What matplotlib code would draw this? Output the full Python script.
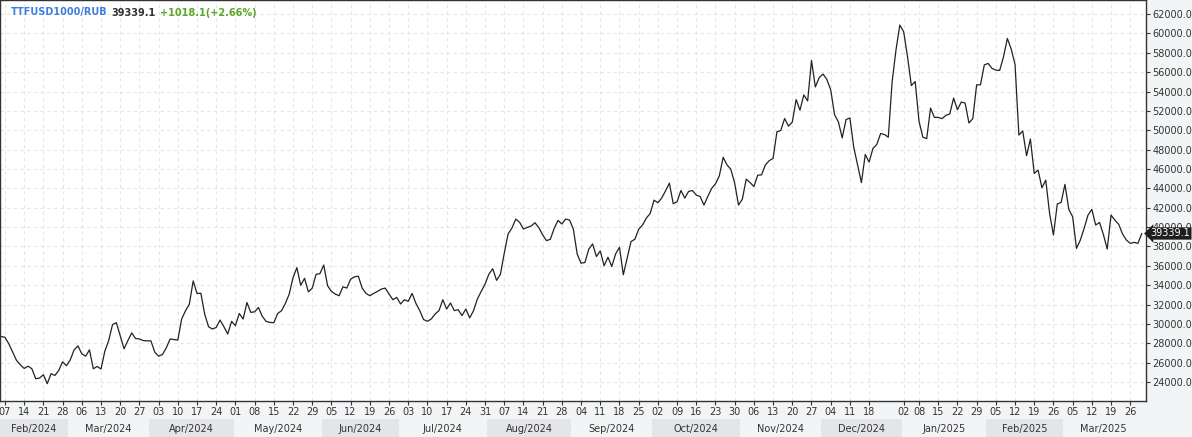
import matplotlib.pyplot as plt
import numpy as np
import pandas as pd

# trading days (Dec 25 and Jan 1 are closed)
dates = pd.bdate_range('2024-02-06', '2025-03-31')
dates = dates[~dates.isin(pd.to_datetime(['2024-12-25', '2025-01-01']))]

# daily close, TTFUSD1000/RUB
prices = [
    28690, 28620, 27940, 27080, 26230, 25780, 25400, 25640, 25370, 24340,
    24410, 24750, 23830, 24860, 24680, 25200, 26090, 25680, 26300, 27320,
    27730, 26910, 26670, 27320, 25370, 25610, 25340, 27190, 28280, 29930,
    30130, 28800, 27430, 28280, 29070, 28490, 28450, 28280, 28250, 28250,
    27080, 26670, 26840, 27530, 28450, 28380, 28340, 30500, 31360, 32040,
    34440, 33140, 33170, 31010, 29710, 29470, 29640, 30400, 29710, 28960,
    30260, 29820, 31080, 30500, 32210, 31190, 31250, 31700, 30770, 30260,
    30160, 30120, 31080, 31360, 32110, 33070, 34780, 35810, 33990, 34710,
    33310, 33690, 35120, 35190, 36080, 33940, 33360, 33080, 32910, 33840,
    33700, 34620, 34860, 34930, 33700, 33150, 32910, 33150, 33360, 33600,
    33700, 33080, 32500, 32740, 32060, 32500, 32330, 33150, 32120, 31370,
    30450, 30270, 30510, 31030, 31370, 32500, 31540, 32160, 31370, 31470,
    30860, 31540, 30620, 31370, 32570, 33360, 34110, 35140, 35700, 34500,
    35120, 37300, 39290, 39900, 40830, 40490, 39800, 39970, 40110, 40450,
    39940, 39190, 38600, 38740, 39870, 40690, 40320, 40830, 40730, 39770,
    37200, 36270, 36340, 37710, 38260, 36960, 37540, 36000, 36890, 35930,
    37230, 37920, 35080, 36790, 38500, 38740, 39770, 40210, 40930, 41410,
    42780, 42510, 43000, 43750, 44530, 42410, 42620, 43780, 42990, 43680,
    43780, 43300, 43160, 42270, 43160, 43990, 44470, 45290, 47210, 46420,
    45970, 44530, 42270, 42890, 44950, 44600, 44190, 45360, 45390, 46420,
    46860, 47100, 49840, 49980, 51210, 50430, 50840, 53170, 52070, 53650,
    53030, 57210, 54470, 55430, 55800, 55250, 54180, 51610, 50860, 49210,
    51100, 51270, 48250, 46400, 44590, 47500, 46710, 48120, 48530, 49660,
    49560, 49280, 55030, 58290, 60860, 60170, 57600, 54620, 55030, 50920,
    49280, 49140, 52290, 51330, 51330, 51200, 51540, 51680, 53320, 52120,
    52910, 52810, 50750, 51200, 54690, 54690, 56750, 56900, 56390, 56210,
    56180, 57590, 59480, 58380, 56800, 49500, 49920, 47370, 49090, 45540,
    45890, 44060, 44850, 41410, 39180, 42380, 42550, 44410, 41830, 41070,
    37800, 38660, 39870, 41240, 41830, 40210, 40480, 39240, 37730, 41240,
    40720, 40280, 39280, 38660, 38320, 38420, 38320, 39339.1,
]

# weekly labels (Wednesdays, or next open day)
tick_days = ['2024-02-07', '2024-02-14', '2024-02-21', '2024-02-28', '2024-03-06',
             '2024-03-13', '2024-03-20', '2024-03-27', '2024-04-03', '2024-04-10',
             '2024-04-17', '2024-04-24', '2024-05-01', '2024-05-08', '2024-05-15',
             '2024-05-22', '2024-05-29', '2024-06-05', '2024-06-12', '2024-06-19',
             '2024-06-26', '2024-07-03', '2024-07-10', '2024-07-17', '2024-07-24',
             '2024-07-31', '2024-08-07', '2024-08-14', '2024-08-21', '2024-08-28',
             '2024-09-04', '2024-09-11', '2024-09-18', '2024-09-25', '2024-10-02',
             '2024-10-09', '2024-10-16', '2024-10-23', '2024-10-30', '2024-11-06',
             '2024-11-13', '2024-11-20', '2024-11-27', '2024-12-04', '2024-12-11',
             '2024-12-18', '2025-01-02', '2025-01-08', '2025-01-15', '2025-01-22',
             '2025-01-29', '2025-02-05', '2025-02-12', '2025-02-19', '2025-02-26',
             '2025-03-05', '2025-03-12', '2025-03-19', '2025-03-26']

symbol = 'TTFUSD1000/RUB'
last_price = 39339.1
change = '+1018.1(+2.66%)'

W, H = 1192, 437
fig = plt.figure(figsize=(W / 100, H / 100), dpi=100, facecolor='#f3f4f6')
ax = fig.add_axes([0, 36 / H, 1146 / W, 401 / H])
ax.set_facecolor('white')

x = np.arange(len(prices))
ax.plot(x, prices, color='#222222', lw=0.9)

ax.set_xlim(-0.3, 298.1)
ax.set_ylim(22040, 63450)

date_pos = {d: i for i, d in enumerate(dates)}
tpos = [date_pos[pd.Timestamp(d)] for d in tick_days]
ax.set_xticks(tpos)
ax.set_xticklabels([pd.Timestamp(d).strftime('%d') for d in tick_days])
ax.set_yticks(np.arange(24000, 62001, 2000))
ax.set_yticklabels(['%.1f' % v for v in np.arange(24000, 62001, 2000)])
ax.yaxis.tick_right()
ax.tick_params(axis='both', labelsize=7, colors='#333333', length=3, width=0.8, pad=1.5)

ax.grid(True, color='#e6e6e6', lw=0.8, dashes=(3, 3))
ax.set_axisbelow(True)
for s in ax.spines.values():
    s.set_color('#333333')
    s.set_linewidth(1)

# last price marker on the right axis
ax.text(1.004, last_price, '%.1f' % last_price, transform=ax.get_yaxis_transform(),
        color='white', fontsize=7, va='center', ha='left',
        bbox=dict(boxstyle='larrow,pad=0.12', fc='#1e1e1e', ec='none'))

# month band under the axis
band = fig.add_axes([0, 0, 1146 / W, 18 / H])
band.set_xlim(ax.get_xlim())
band.set_ylim(0, 1)
band.axis('off')
months = pd.Series(dates.to_period('M'))
starts = months.drop_duplicates().index.tolist() + [len(dates)]
for k in range(len(starts) - 1):
    a, b = starts[k] - 0.5, starts[k + 1] - 0.5
    shade = '#e4e5e8' if k % 2 == 0 else '#f3f4f6'
    band.axvspan(max(a, -0.3), b, color=shade, lw=0)
    label = dates[starts[k]].strftime('%b/%Y')
    band.text((max(a, -0.3) + min(b, 298.1)) / 2, 0.45, label, ha='center', va='center',
              fontsize=7, color='#333333')

# header
r = fig.canvas.get_renderer()
tx = 11
for txt, col in [(symbol, '#3d7ee0'), ('%.1f' % last_price, '#333333'), (change, '#5aa62b')]:
    t = fig.text(tx / W, 1 - 12.5 / H, txt, fontsize=7, fontweight='bold', color=col, va='center')
    tx = t.get_window_extent(r).x1 + 4

fig.savefig('out.png', dpi=100, facecolor=fig.get_facecolor())
